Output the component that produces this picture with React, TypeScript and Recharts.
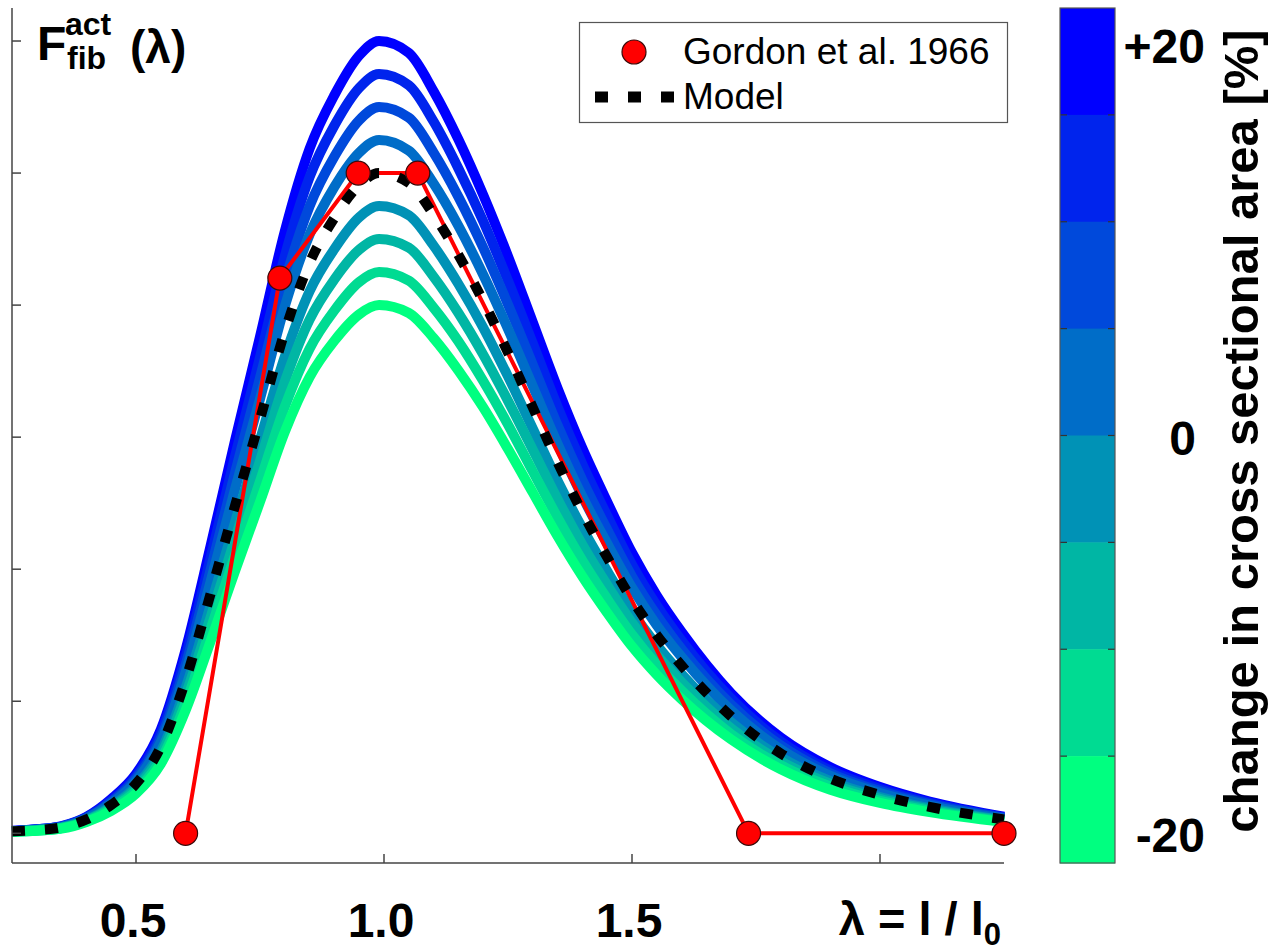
import React from "react";
import { ComposedChart, Line, XAxis, YAxis } from "recharts";

// lambda = l / l0 sample points
const LAMBDA = [0.25, 0.3, 0.35, 0.4, 0.45, 0.5, 0.55, 0.6, 0.65, 0.7, 0.75, 0.8, 0.85, 0.9, 0.95, 0.99, 1.05, 1.1, 1.15, 1.2, 1.25, 1.3, 1.35, 1.4, 1.45, 1.5, 1.55, 1.6, 1.7, 1.8, 1.9, 2.0, 2.1, 2.25];

// model (black dashed)
const MODEL = [0.003, 0.005, 0.009, 0.021, 0.043, 0.075, 0.131, 0.232, 0.362, 0.497, 0.627, 0.76, 0.864, 0.932, 0.982, 1.0, 0.985, 0.937, 0.876, 0.806, 0.728, 0.645, 0.562, 0.486, 0.418, 0.354, 0.3, 0.254, 0.177, 0.121, 0.083, 0.058, 0.04, 0.021];

// curves for changed cross sectional area
const AREA_P20 = [0.004, 0.006, 0.011, 0.025, 0.052, 0.09, 0.157, 0.278, 0.434, 0.596, 0.752, 0.912, 1.037, 1.118, 1.178, 1.2, 1.182, 1.124, 1.051, 0.967, 0.874, 0.774, 0.674, 0.583, 0.502, 0.425, 0.36, 0.305, 0.212, 0.145, 0.1, 0.07, 0.048, 0.025];
const AREA_P15 = [0.003, 0.006, 0.01, 0.024, 0.049, 0.086, 0.151, 0.267, 0.416, 0.572, 0.721, 0.874, 0.994, 1.072, 1.129, 1.15, 1.133, 1.078, 1.007, 0.927, 0.837, 0.742, 0.646, 0.559, 0.481, 0.407, 0.345, 0.292, 0.204, 0.139, 0.095, 0.067, 0.046, 0.024];
const AREA_P10 = [0.003, 0.006, 0.01, 0.023, 0.047, 0.083, 0.144, 0.255, 0.398, 0.547, 0.69, 0.836, 0.95, 1.025, 1.08, 1.1, 1.084, 1.031, 0.964, 0.887, 0.801, 0.71, 0.618, 0.535, 0.46, 0.389, 0.33, 0.279, 0.195, 0.133, 0.091, 0.064, 0.044, 0.023];
const AREA_P05 = [0.003, 0.005, 0.009, 0.022, 0.045, 0.079, 0.138, 0.244, 0.38, 0.522, 0.658, 0.798, 0.907, 0.979, 1.031, 1.05, 1.034, 0.984, 0.92, 0.846, 0.764, 0.677, 0.59, 0.51, 0.439, 0.372, 0.315, 0.267, 0.186, 0.127, 0.087, 0.061, 0.042, 0.022];
const AREA_M05 = [0.003, 0.005, 0.009, 0.02, 0.041, 0.071, 0.124, 0.22, 0.344, 0.472, 0.596, 0.722, 0.821, 0.885, 0.933, 0.95, 0.936, 0.89, 0.832, 0.766, 0.692, 0.613, 0.534, 0.462, 0.397, 0.336, 0.285, 0.241, 0.168, 0.115, 0.079, 0.055, 0.038, 0.02];
const AREA_M10 = [0.003, 0.005, 0.008, 0.019, 0.039, 0.068, 0.118, 0.209, 0.326, 0.447, 0.564, 0.684, 0.778, 0.839, 0.884, 0.9, 0.887, 0.843, 0.788, 0.725, 0.655, 0.581, 0.506, 0.437, 0.376, 0.319, 0.27, 0.229, 0.159, 0.109, 0.075, 0.052, 0.036, 0.019];
const AREA_M15 = [0.003, 0.004, 0.008, 0.018, 0.037, 0.064, 0.111, 0.197, 0.308, 0.422, 0.533, 0.646, 0.734, 0.792, 0.835, 0.85, 0.837, 0.796, 0.745, 0.685, 0.619, 0.548, 0.478, 0.413, 0.355, 0.301, 0.255, 0.216, 0.15, 0.103, 0.071, 0.049, 0.034, 0.018];
const AREA_M20 = [0.002, 0.004, 0.007, 0.017, 0.034, 0.06, 0.105, 0.186, 0.29, 0.398, 0.502, 0.608, 0.691, 0.746, 0.786, 0.8, 0.788, 0.75, 0.701, 0.645, 0.582, 0.516, 0.45, 0.389, 0.334, 0.283, 0.24, 0.203, 0.142, 0.097, 0.066, 0.046, 0.032, 0.017];

// Gordon et al. 1966
const GORDON_LAMBDA = [0.6, 0.79, 0.948, 1.068, 1.735, 2.25];
const GORDON_FORCE = [0, 0.841, 1.0, 1.0, 0, 0];

const X_TICKS = [0.5, 1.0, 1.5, 2.0];
const X_TICK_LABELS = ["0.5", "1.0", "1.5", "λ = l / l"];
const Y_TICKS = [0, 0.2, 0.4, 0.6, 0.8, 1.0, 1.2];

// colorbar, top to bottom (winter)
const CBAR_COLORS = ["#0000FF", "#0024ED", "#0049DB", "#006DC8", "#0092B6", "#00B6A4", "#00DB92", "#00FF80"];
const CBAR_LABELS = ["+20", "0", "-20"];

// drawn blue first, green last
const CURVES = [
  { key: "p20", values: AREA_P20, color: CBAR_COLORS[0] },
  { key: "p15", values: AREA_P15, color: CBAR_COLORS[1] },
  { key: "p10", values: AREA_P10, color: CBAR_COLORS[2] },
  { key: "p05", values: AREA_P05, color: CBAR_COLORS[3] },
  { key: "m05", values: AREA_M05, color: CBAR_COLORS[4] },
  { key: "m10", values: AREA_M10, color: CBAR_COLORS[5] },
  { key: "m15", values: AREA_M15, color: CBAR_COLORS[6] },
  { key: "m20", values: AREA_M20, color: CBAR_COLORS[7] },
];

const curveRows = LAMBDA.map((lam, i) => {
  const row: Record<string, number> = { lam, model: MODEL[i] };
  CURVES.forEach((c) => {
    row[c.key] = c.values[i];
  });
  return row;
});

const gordonRows = GORDON_LAMBDA.map((lam, i) => ({ lam, f: GORDON_FORCE[i] }));

const FONT = "'Liberation Sans', Arial, Helvetica, sans-serif";

function XTick(props: any) {
  const { x, y, payload } = props;
  const i = X_TICKS.indexOf(payload.value);
  if (i === 3) {
    return (
      <text x={x + 121} y={y - 2} textAnchor="end" fontFamily={FONT} fontWeight="bold" fontSize={47} fill="#000">
        {X_TICK_LABELS[i]}
        <tspan fontSize={31} dy={10}>0</tspan>
      </text>
    );
  }
  return (
    <text x={x - 3} y={y} textAnchor="middle" fontFamily={FONT} fontWeight="bold" fontSize={48} fill="#000">
      {X_TICK_LABELS[i]}
    </text>
  );
}

// y axis has tick marks but no labels
const NoLabel = () => <g />;

const redDot = (p: any) => (
  <circle key={`g${p.index}`} cx={p.cx} cy={p.cy} r={12} fill="#FF0000" stroke="#3a0a0a" strokeWidth={1.2} />
);

export default function App() {
  const cbTop = 8;
  const cbBottom = 863;
  const binH = (cbBottom - cbTop) / CBAR_COLORS.length;
  return (
    <div style={{ position: "absolute", left: 0, top: 0, width: 1287, height: 952, background: "#fff" }}>
      <ComposedChart width={1040} height={952} margin={{ top: 8, right: 36, left: 10, bottom: 0 }}>
        <XAxis
          dataKey="lam"
          type="number"
          domain={[0.25, 2.25]}
          ticks={X_TICKS}
          interval={0}
          height={89}
          tickSize={-9}
          tickMargin={83}
          tick={<XTick />}
          axisLine={{ stroke: "#444", strokeWidth: 1.5 }}
          tickLine={{ stroke: "#444", strokeWidth: 1.5 }}
        />
        <YAxis
          type="number"
          domain={[-0.045, 1.25]}
          ticks={Y_TICKS}
          interval={0}
          width={2}
          tick={<NoLabel />}
          tickSize={-9}
          axisLine={{ stroke: "#444", strokeWidth: 1.5 }}
          tickLine={{ stroke: "#444", strokeWidth: 1.5 }}
        />
        {CURVES.map((c) => (
          <Line
            key={c.key}
            data={curveRows}
            dataKey={c.key}
            type="monotone"
            stroke={c.color}
            strokeWidth={10}
            dot={false}
            activeDot={false}
            legendType="none"
            isAnimationActive={false}
          />
        ))}
        <Line data={gordonRows} dataKey="f" type="linear" stroke="#FF0000" strokeWidth={4} dot={false} activeDot={false} legendType="none" isAnimationActive={false} />
        <Line data={curveRows} dataKey="model" type="monotone" stroke="#000" strokeWidth={10} strokeDasharray="13 20" dot={false} activeDot={false} legendType="none" isAnimationActive={false} />
        <Line data={gordonRows} dataKey="f" type="linear" stroke="none" strokeWidth={0} dot={redDot} activeDot={false} legendType="none" isAnimationActive={false} />
      </ComposedChart>

      <svg width={1287} height={952} style={{ position: "absolute", left: 0, top: 0, pointerEvents: "none" }}>
        {/* legend */}
        <g transform="translate(579 22)">
          <rect x={0.5} y={0.5} width={428} height={100} fill="#fff" stroke="#555" strokeWidth={1.2} />
          <circle cx={55} cy={30} r={12} fill="#FF0000" stroke="#3a0a0a" strokeWidth={1.2} />
          <text x={104} y={42} fontFamily={FONT} fontSize={37} fill="#000">Gordon et al. 1966</text>
          <line x1={16} x2={96} y1={75} y2={75} stroke="#000" strokeWidth={11} strokeDasharray="13 20" />
          <text x={104} y={87} fontFamily={FONT} fontSize={37} fill="#000">Model</text>
        </g>

        {/* y label */}
        <text x={37} y={60} fontFamily={FONT} fontWeight="bold" fontSize={48} fill="#000">F</text>
        <text x={65} y={35} fontFamily={FONT} fontWeight="bold" fontSize={32} fill="#000">act</text>
        <text x={67} y={69} fontFamily={FONT} fontWeight="bold" fontSize={32} fill="#000">fib</text>
        <text x={130} y={63} fontFamily={FONT} fontWeight="bold" fontSize={46} fill="#000">(λ)</text>

        {/* colorbar */}
        {CBAR_COLORS.map((c, i) => (
          <rect key={c} x={1060} y={cbTop + i * binH} width={55} height={binH + 0.5} fill={c} />
        ))}
        {CBAR_COLORS.slice(1).map((c, i) => (
          <g key={`t${c}`} stroke="#333" strokeWidth={1.2}>
            <line x1={1060} x2={1067} y1={cbTop + (i + 1) * binH} y2={cbTop + (i + 1) * binH} />
            <line x1={1108} x2={1115} y1={cbTop + (i + 1) * binH} y2={cbTop + (i + 1) * binH} />
          </g>
        ))}
        <rect x={1060} y={cbTop} width={55} height={cbBottom - cbTop} fill="none" stroke="#555" strokeWidth={1.2} />
        <text x={1205} y={63} textAnchor="end" fontFamily={FONT} fontWeight="bold" fontSize={48} fill="#000">{CBAR_LABELS[0]}</text>
        <text x={1196} y={455} textAnchor="end" fontFamily={FONT} fontWeight="bold" fontSize={48} fill="#000">{CBAR_LABELS[1]}</text>
        <text x={1205} y={852} textAnchor="end" fontFamily={FONT} fontWeight="bold" fontSize={48} fill="#000">{CBAR_LABELS[2]}</text>
        <text
          x={1258}
          y={431}
          transform="rotate(-90 1258 431)"
          textAnchor="middle"
          fontFamily={FONT}
          fontWeight="bold"
          fontSize={49}
          fill="#000"
        >
          change in cross sectional area [%]
        </text>
      </svg>
    </div>
  );
}
